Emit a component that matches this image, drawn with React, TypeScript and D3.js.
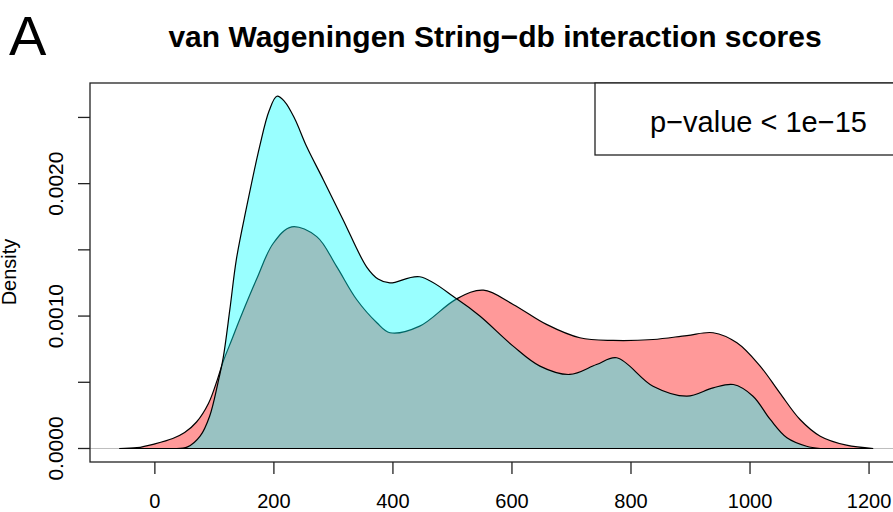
import React, { useEffect, useRef } from "react";
import * as d3 from "d3";

// density estimates: [score, density]
const redScores = [-60, -30, 0, 30, 50, 70, 90, 105, 115, 130, 143, 171, 199, 230, 272, 305, 339, 373, 395, 445, 507, 552, 602, 658, 714, 770, 837, 894, 938, 978, 1017, 1050, 1084, 1118, 1162, 1207];
const redDensity = [0, 0.000006, 0.000035, 0.000075, 0.00012, 0.0002, 0.00034, 0.00052, 0.00066, 0.00083, 0.00098, 0.00128, 0.00155, 0.001674, 0.0016, 0.001377, 0.001125, 0.00095, 0.000874, 0.000924, 0.00113, 0.001196, 0.001088, 0.000937, 0.000836, 0.000816, 0.000823, 0.000853, 0.000874, 0.000798, 0.000622, 0.00042, 0.000219, 0.000093, 0.000025, 0];

const cyanScores = [35, 55, 76, 92, 106, 115, 126, 137, 154, 176, 192, 205, 218, 235, 255, 283, 316, 356, 375, 395, 445, 507, 546, 602, 647, 697, 742, 776, 837, 894, 938, 972, 1005, 1034, 1062, 1095, 1118];
const cyanDensity = [0, 0.000012, 0.000093, 0.000244, 0.000496, 0.00069, 0.00105, 0.00143, 0.00182, 0.00228, 0.00255, 0.00266, 0.00262, 0.00249, 0.00228, 0.00203, 0.00173, 0.00137, 0.00128, 0.00125, 0.001297, 0.00113, 0.001, 0.000773, 0.000622, 0.000559, 0.000634, 0.000685, 0.00047, 0.000395, 0.000458, 0.000483, 0.000395, 0.000219, 0.000081, 0.000017, 0];

const xTicks = [0, 200, 400, 600, 800, 1000, 1200];
const yTicks = [0, 0.0005, 0.001, 0.0015, 0.002, 0.0025];
const yTickLabels = [0, 0.001, 0.002];

const titleText = "van Wageningen String\u2212db interaction scores";
const legendText = "p\u2212value < 1e\u221215";

const W = 893, H = 512;
const box = { left: 90, top: 83, right: 900, bottom: 462 };
const font = "'Liberation Sans', Arial, Helvetica, sans-serif";

export default function App() {
  const ref = useRef<SVGSVGElement>(null);

  useEffect(() => {
    const svg = d3.select(ref.current);
    svg.selectAll("*").remove();

    const x = d3.scaleLinear().domain([-109, 1252]).range([box.left, box.right]);
    const y = d3.scaleLinear().domain([-0.000102, 0.00276]).range([box.bottom, box.top]);

    // zero line
    svg.append("line")
      .attr("x1", box.left).attr("x2", box.right)
      .attr("y1", y(0)).attr("y2", y(0))
      .attr("stroke", "#bebebe").attr("stroke-width", 1);

    const area = d3.area<[number, number]>()
      .x(d => x(d[0]))
      .y0(y(0))
      .y1(d => y(d[1]))
      .curve(d3.curveCatmullRom.alpha(0.5));

    const red = redScores.map((s, i) => [s, redDensity[i]] as [number, number]);
    const cyan = cyanScores.map((s, i) => [s, cyanDensity[i]] as [number, number]);

    svg.append("path")
      .attr("d", area(red) + "Z")
      .attr("fill", "rgba(255,0,0,0.4)")
      .attr("stroke", "black")
      .attr("stroke-width", 1.2);

    svg.append("path")
      .attr("d", area(cyan) + "Z")
      .attr("fill", "rgba(0,255,255,0.4)")
      .attr("stroke", "black")
      .attr("stroke-width", 1.2);

    // plot box
    svg.append("rect")
      .attr("x", box.left).attr("y", box.top)
      .attr("width", box.right - box.left).attr("height", box.bottom - box.top)
      .attr("fill", "none").attr("stroke", "#222").attr("stroke-width", 1.3);

    // x axis
    const xg = svg.append("g");
    xTicks.forEach(t => {
      xg.append("line")
        .attr("x1", x(t)).attr("x2", x(t))
        .attr("y1", box.bottom).attr("y2", box.bottom + 12)
        .attr("stroke", "#222").attr("stroke-width", 1.3);
      xg.append("text")
        .attr("x", x(t)).attr("y", 508)
        .attr("text-anchor", "middle")
        .style("font", `20px ${font}`)
        .text(String(t));
    });

    // y axis
    const yg = svg.append("g");
    yTicks.forEach(t => {
      yg.append("line")
        .attr("x1", box.left - 12).attr("x2", box.left)
        .attr("y1", y(t)).attr("y2", y(t))
        .attr("stroke", "#222").attr("stroke-width", 1.3);
    });
    yTickLabels.forEach(t => {
      yg.append("text")
        .attr("transform", `translate(63,${y(t)})rotate(-90)`)
        .attr("text-anchor", "middle")
        .style("font", `21px ${font}`)
        .text(t.toFixed(4));
    });

    svg.append("text")
      .attr("transform", `translate(15.5,272)rotate(-90)`)
      .attr("text-anchor", "middle")
      .style("font", `20px ${font}`)
      .text("Density");

    // title and panel letter
    svg.append("text")
      .attr("x", (box.left + box.right) / 2).attr("y", 47)
      .attr("text-anchor", "middle")
      .style("font", `bold 30px ${font}`)
      .text(titleText);

    svg.append("text")
      .attr("x", 9).attr("y", 55)
      .style("font", `56px ${font}`)
      .text("A");

    // legend
    svg.append("rect")
      .attr("x", 595).attr("y", box.top)
      .attr("width", 320).attr("height", 72)
      .attr("fill", "white").attr("stroke", "#222").attr("stroke-width", 1.3);
    svg.append("text")
      .attr("x", 650).attr("y", 132)
      .style("font", `29px ${font}`)
      .text(legendText);
  }, []);

  return (
    <svg ref={ref} width={W} height={H}
      style={{ position: "absolute", left: 0, top: 0, background: "white" }} />
  );
}
